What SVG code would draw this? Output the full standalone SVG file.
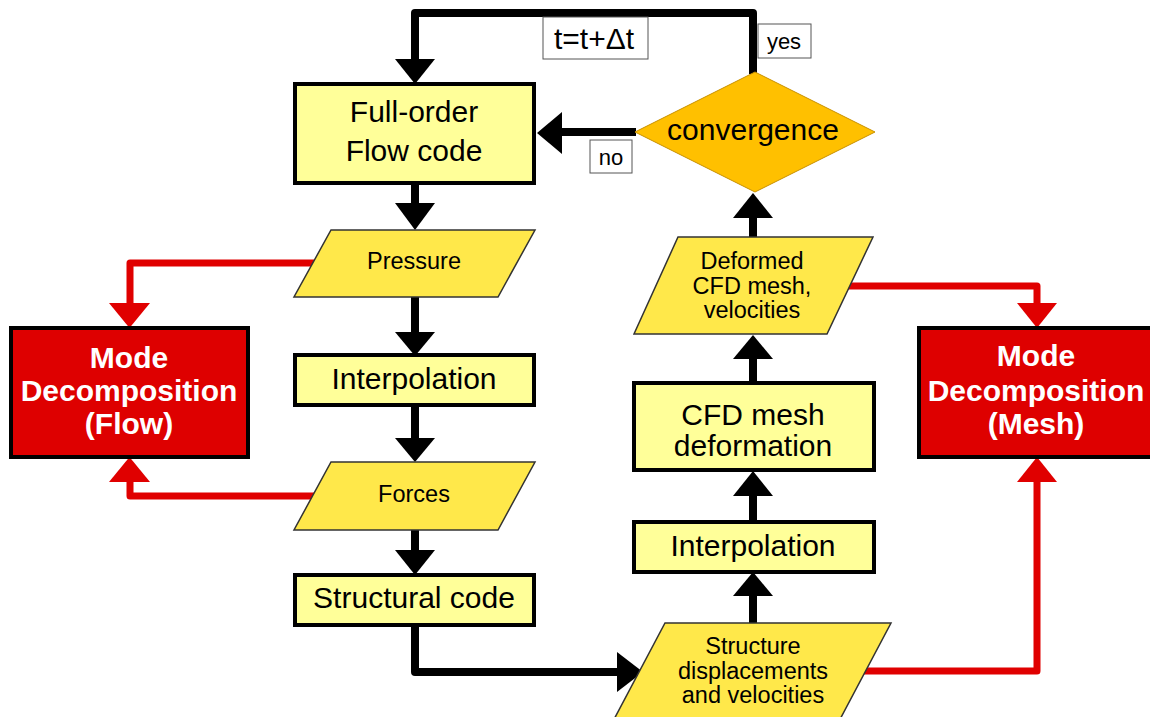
<svg xmlns="http://www.w3.org/2000/svg" width="1150" height="717" viewBox="0 0 1150 717">
<style>
.blk{fill:none;stroke:#000;stroke-width:8;stroke-linejoin:round}
.red{fill:none;stroke:#E00000;stroke-width:7;stroke-linejoin:round}
.hb{fill:#000}
.hr{fill:#E00000}
.box{fill:#FFFF99;stroke:#000;stroke-width:4}
.par{fill:#FFE84A;stroke:#333;stroke-width:1.5}
.mode{fill:#DE0000;stroke:#000;stroke-width:4}
.dia{fill:#FFC000;stroke:#C89000;stroke-width:1}
.lbl{fill:#fff;stroke:#555;stroke-width:1}
text{font-family:"Liberation Sans",Arial,sans-serif;text-anchor:middle;fill:#000}
.t30{font-size:30px}
.t24{font-size:23.5px}
.t22{font-size:22px}
.mt{font-size:30px;font-weight:bold;fill:#fff}
</style>
<g id="connectors">
<path class="blk" d="M753,74 V13 H415 V62"/>
<polygon class="hb" points="395,59 435,59 415,84"/>
<path class="blk" d="M636,132 H558"/>
<polygon class="hb" points="562,112 562,154 537,133"/>
<path class="blk" d="M415,183 V206"/>
<polygon class="hb" points="395,203 435,203 415,230"/>
<path class="blk" d="M415,297 V335"/>
<polygon class="hb" points="395,332 435,332 415,356"/>
<path class="blk" d="M415,405 V441"/>
<polygon class="hb" points="395,438 435,438 415,462"/>
<path class="blk" d="M415,530 V553"/>
<polygon class="hb" points="395,550 435,550 415,575"/>
<path class="blk" d="M415,625 V672 H620"/>
<polygon class="hb" points="617,652 617,692 643,672"/>
<path class="blk" d="M753,623 V593"/>
<polygon class="hb" points="733,596 773,596 753,572"/>
<path class="blk" d="M753,522 V493"/>
<polygon class="hb" points="733,496 773,496 753,471"/>
<path class="blk" d="M753,383 V356"/>
<polygon class="hb" points="733,359 773,359 753,335"/>
<path class="blk" d="M753,237 V215"/>
<polygon class="hb" points="733,218 773,218 753,193"/>
<path class="red" d="M318,263 H130 V306"/>
<polygon class="hr" points="109,303 150,303 129.5,328"/>
<path class="red" d="M318,496 H130 V479"/>
<polygon class="hr" points="109,482 150,482 129.5,457"/>
<path class="red" d="M845,286 H1037 V306"/>
<polygon class="hr" points="1017,303 1057,303 1037,328"/>
<path class="red" d="M862,671 H1037 V479"/>
<polygon class="hr" points="1017,482 1057,482 1037,457"/>
</g>
<g id="label-dt"><rect class="lbl" x="543" y="17" width="105" height="42"/><text class="t30" x="594" y="49">t=t+Δt</text></g>
<g id="label-yes"><rect class="lbl" x="758" y="24" width="53" height="34"/><text class="t22" x="784" y="49">yes</text></g>
<g id="label-no"><rect class="lbl" x="590" y="140" width="42" height="33"/><text class="t22" x="611" y="165">no</text></g>
<g id="fullorder"><rect class="box" x="295" y="84" width="239" height="99"/><text class="t30" x="414" y="122">Full-order</text><text class="t30" x="414" y="161">Flow code</text></g>
<g id="convergence"><polygon class="dia" points="635,132 755,72 875,132 755,192"/><text class="t30" x="753" y="140">convergence</text></g>
<g id="pressure"><polygon class="par" points="331,230 535,230 498,297 294,297"/><text class="t24" x="414" y="269">Pressure</text></g>
<g id="interp1"><rect class="box" x="295" y="355" width="239" height="50"/><text class="t30" x="414" y="389">Interpolation</text></g>
<g id="forces"><polygon class="par" points="331,462 535,462 498,530 294,530"/><text class="t24" x="414" y="502">Forces</text></g>
<g id="structural"><rect class="box" x="295" y="575" width="239" height="50"/><text class="t30" x="414" y="608">Structural code</text></g>
<g id="flowmode"><rect class="mode" x="11" y="328" width="237" height="129"/><text class="mt" x="129" y="368">Mode</text><text class="mt" x="129" y="401">Decomposition</text><text class="mt" x="129" y="434">(Flow)</text></g>
<g id="structure"><polygon class="par" points="665,623 891,623 837,725 611,725"/><text class="t24" x="753" y="654">Structure</text><text class="t24" x="753" y="679">displacements</text><text class="t24" x="753" y="703">and velocities</text></g>
<g id="interp2"><rect class="box" x="634" y="522" width="240" height="50"/><text class="t30" x="753" y="556">Interpolation</text></g>
<g id="cfddef"><rect class="box" x="634" y="383" width="240" height="87"/><text class="t30" x="753" y="425">CFD mesh</text><text class="t30" x="753" y="456">deformation</text></g>
<g id="deformed"><polygon class="par" points="678,237 873,237 827,334 634,334"/><text class="t24" x="752" y="269">Deformed</text><text class="t24" x="752" y="294">CFD mesh,</text><text class="t24" x="752" y="318">velocities</text></g>
<g id="meshmode"><rect class="mode" x="919" y="328" width="245" height="129"/><text class="mt" x="1036" y="366">Mode</text><text class="mt" x="1036" y="401">Decomposition</text><text class="mt" x="1036" y="434">(Mesh)</text></g>
</svg>
